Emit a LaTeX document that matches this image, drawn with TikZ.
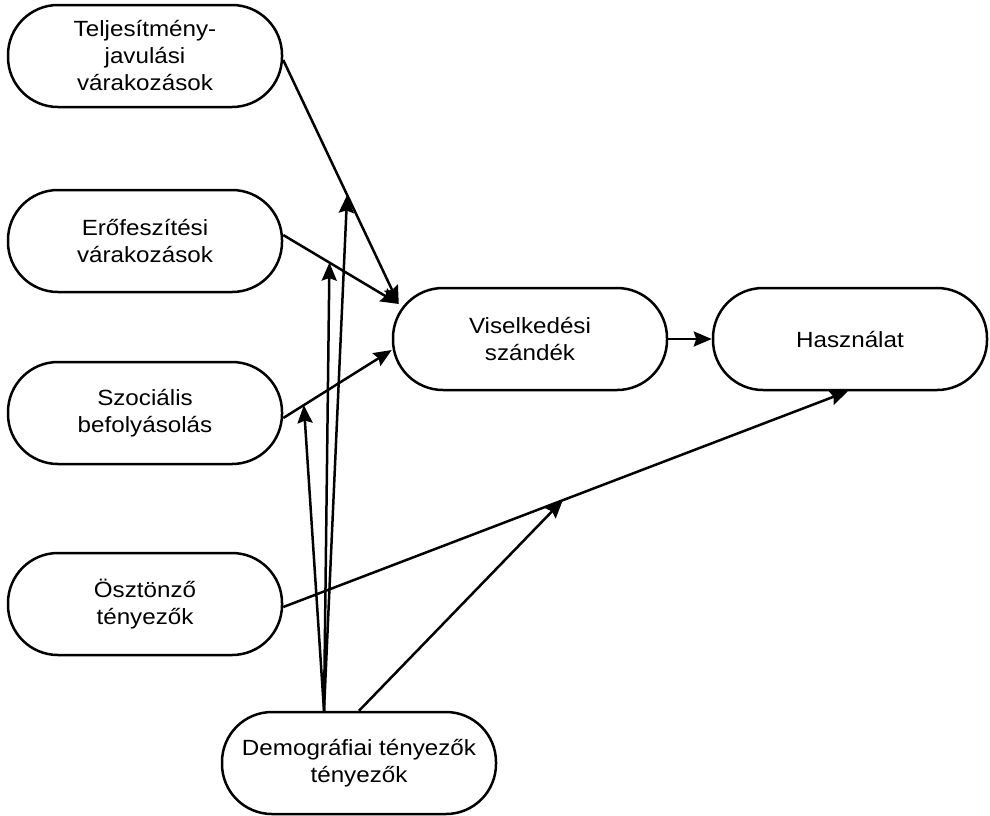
\documentclass[tikz,border=0pt]{standalone}
\usepackage{fontspec}
\setmainfont{Liberation Sans}[FakeStretch=1.1]
\usetikzlibrary{arrows.meta}
\begin{document}
\begin{tikzpicture}[x=1pt,y=-1pt,
  box/.style={draw, line width=2.5pt, rounded corners=50pt, minimum width=274pt, minimum height=102pt,
    inner sep=0pt, align=center, font=\fontsize{22}{27}\selectfont},
  arr/.style={line width=2.5pt, -{Stealth[length=18pt,width=15pt,inset=2.5pt]}}]
\useasboundingbox (0,0) rectangle (990,815);
\node[box] (b1) at (145,56) {Teljesítmény-\\javulási\\várakozások};
\node[box] (b2) at (145,241) {Erőfeszítési\\várakozások};
\node[box] (b3) at (145,413) {Szociális\\befolyásolás};
\node[box] (b4) at (145,604) {Ösztönző\\tényezők};
\node[box] (b5) at (359,763) {Demográfiai tényezők\\tényezők};
\node[box] (vis) at (530,339) {Viselkedési\\szándék};
\node[box] (has) at (850,339) {Használat};

\draw[arr] ([yshift=-4pt]b1.east) -- coordinate[pos=0.553] (m1) ([xshift=7pt,yshift=35pt]vis.west);
\draw[arr] ([yshift=6pt]b2.east) -- coordinate[pos=0.40] (m2) ([xshift=7pt,yshift=35pt]vis.west);
\draw[arr] ([yshift=-5pt]b3.east) -- coordinate[pos=0.19] (m3) ([yshift=-11pt]vis.west);
\draw[arr] ([yshift=-3pt]b4.east) -- coordinate[pos=0.495] (m4) ([xshift=-2pt]has.south);
\draw[arr] (vis.east) -- (has.west);

\draw[arr] ([xshift=-35pt]b5.north) -- (m1);
\draw[arr] ([xshift=-35pt]b5.north) -- (m2);
\draw[arr] ([xshift=-35pt]b5.north) -- (m3);
\draw[arr] (b5.north) -- (m4);
\end{tikzpicture}
\end{document}
